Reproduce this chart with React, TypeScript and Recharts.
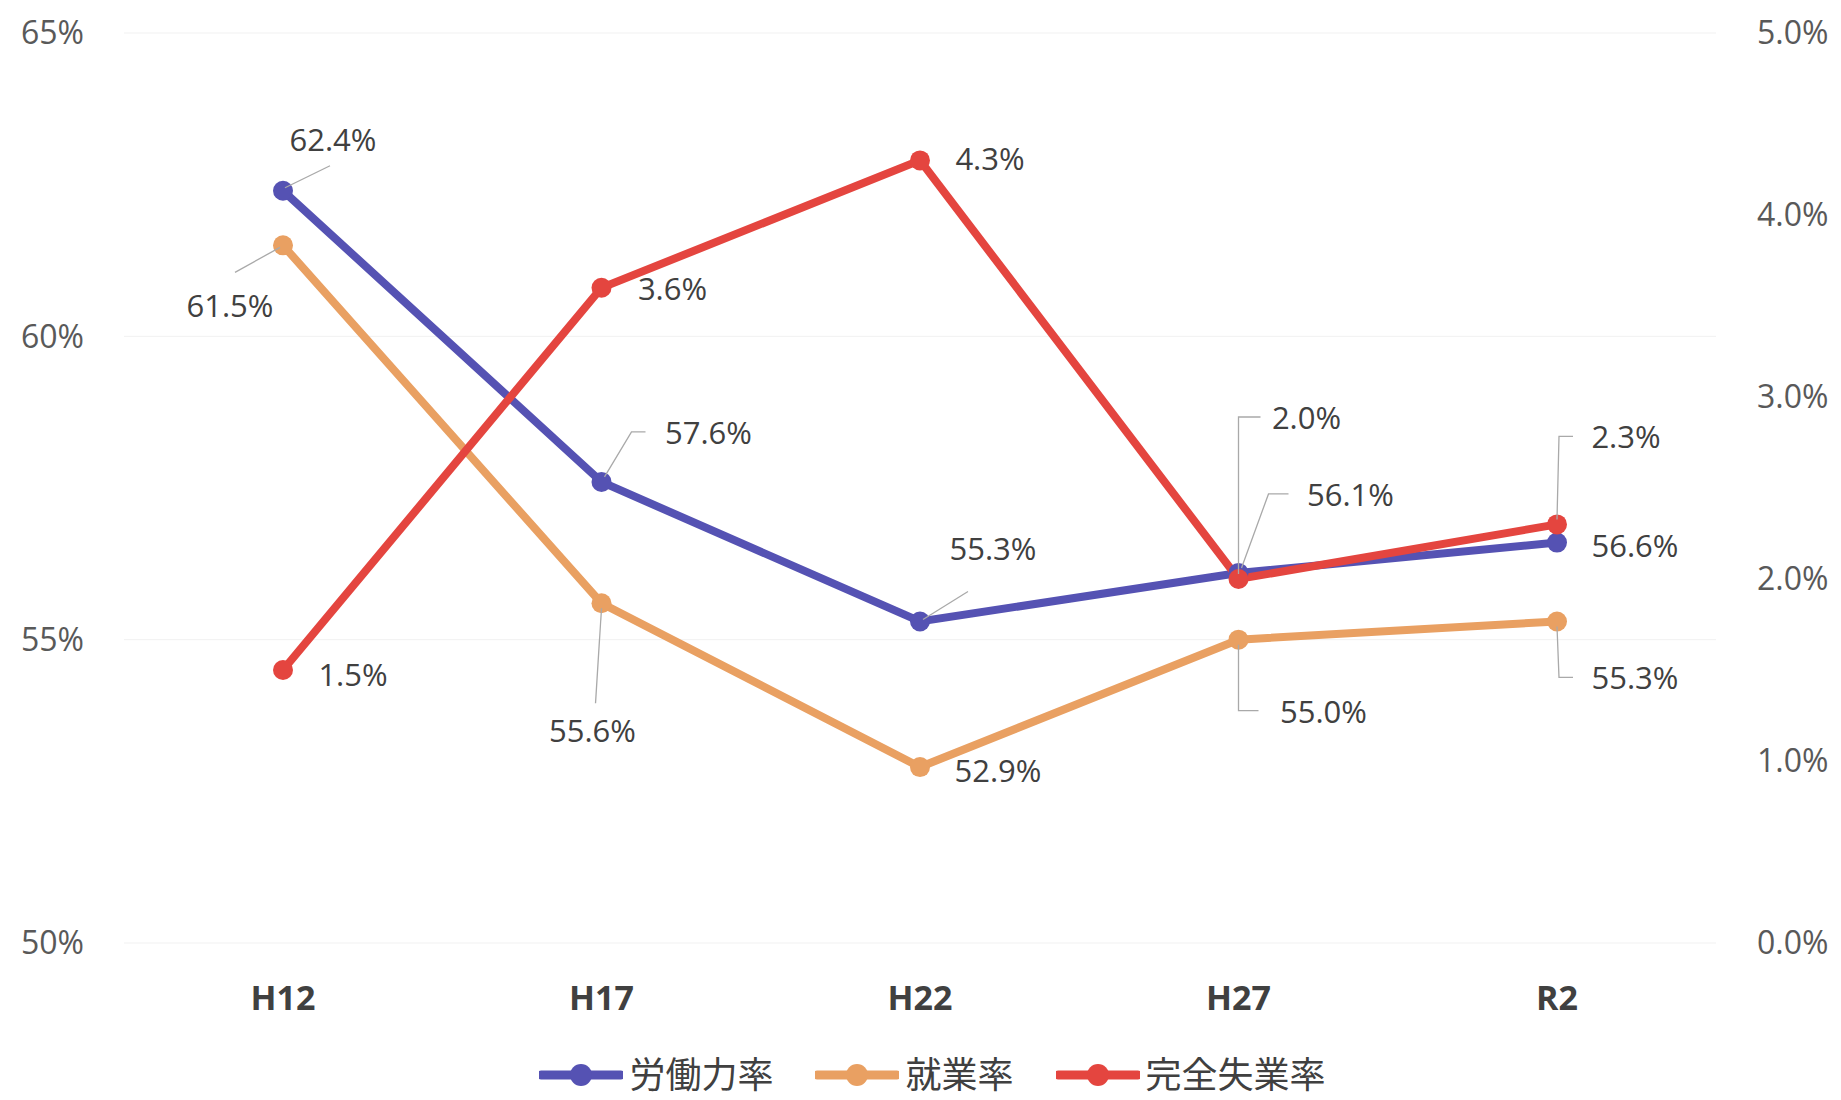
import React from "react";
import { LineChart, Line, XAxis, YAxis, CartesianGrid, LabelList } from "recharts";

const categories = ["H12", "H17", "H22", "H27", "R2"];
const laborForceRate = [62.4, 57.6, 55.3, 56.1, 56.6];
const employmentRate = [61.5, 55.6, 52.9, 55.0, 55.3];
const unemploymentRate = [1.5, 3.6, 4.3, 2.0, 2.3];
const leftTicks = [50, 55, 60, 65];
const rightTicks = [0, 1, 2, 3, 4, 5];

const seriesNames = ["労働力率", "就業率", "完全失業率"];
const colors = ["#5552b3", "#e9a062", "#e4453f"];

const data = categories.map((name, i) => ({
  name,
  labor: laborForceRate[i],
  emp: employmentRate[i],
  unemp: unemploymentRate[i],
}));

// label placement relative to each point: text centre offset + leader polyline
type Lay = { dx: number; dy: number; leader?: number[][] };

const laborLabels: Lay[] = [
  { dx: 50, dy: -52, leader: [[2, -3], [47, -25]] },
  { dx: 107, dy: -50, leader: [[3, -5], [30, -50], [44, -50]] },
  { dx: 73, dy: -73, leader: [[3, -2], [48, -30]] },
  { dx: 112, dy: -79, leader: [[3, -5], [30, -79], [50, -79]] },
  { dx: 78, dy: 2 },
];
const empLabels: Lay[] = [
  { dx: -53, dy: 60, leader: [[-3, 2], [-48, 27]] },
  { dx: -9, dy: 127, leader: [[0, 5], [-6, 100]] },
  { dx: 78, dy: 3 },
  { dx: 85, dy: 71, leader: [[0, 5], [0, 71], [20, 71]] },
  { dx: 78, dy: 56, leader: [[0, 5], [2, 56], [16, 56]] },
];
const unempLabels: Lay[] = [
  { dx: 70, dy: 4 },
  { dx: 71, dy: 0 },
  { dx: 70, dy: -2 },
  { dx: 68, dy: -162, leader: [[0, -5], [0, -162], [22, -162]] },
  { dx: 69, dy: -88, leader: [[0, -5], [2, -88], [16, -88]] },
];

const FONT = '"Open Sans", "Noto Sans", "Noto Sans CJK JP", sans-serif';

const makeLabel = (layout: Lay[]) => (props: any) => {
  const x = Number(props.x);
  const y = Number(props.y);
  const lay = layout[props.index];
  if (!lay) return null;
  return (
    <g>
      {lay.leader && (
        <polyline
          points={lay.leader.map(([a, b]) => `${x + a},${y + b}`).join(" ")}
          fill="none"
          stroke="#a9a9a9"
          strokeWidth={1.3}
        />
      )}
      <text
        x={x + lay.dx}
        y={y + lay.dy}
        textAnchor="middle"
        dominantBaseline="central"
        fontSize={31}
        fontFamily={FONT}
        fill="#404040"
      >
        {Number(props.value).toFixed(1)}%
      </text>
    </g>
  );
};

const tickStyle = { fontSize: 32, fill: "#595959", fontFamily: FONT };

function LegendIcon({ color }: { color: string }) {
  return (
    <svg width={84} height={30} style={{ display: "block" }}>
      <line x1={2} y1={15} x2={82} y2={15} stroke={color} strokeWidth={9} strokeLinecap="round" />
      <circle cx={42} cy={15} r={11} fill={color} />
    </svg>
  );
}

export default function App() {
  return (
    <div style={{ position: "relative", width: 1841, height: 1100, background: "#fff", overflow: "hidden" }}>
      <style>{"body{margin:0}"}</style>
      <LineChart width={1841} height={1100} data={data} margin={{ top: 33, right: 0, left: 0, bottom: 97 }}>
        <CartesianGrid yAxisId="left" vertical={false} stroke="#f1f1f1" />
        <XAxis
          dataKey="name"
          interval={0}
          padding={{ left: 159, right: 159 }}
          axisLine={false}
          tickLine={false}
          height={60}
          tickMargin={37}
          tick={{ fontSize: 34, fontWeight: 700, fill: "#404040", fontFamily: FONT }}
        />
        <YAxis
          yAxisId="left"
          domain={[50, 65]}
          ticks={leftTicks}
          width={124}
          axisLine={false}
          tickLine={false}
          tickMargin={34}
          tick={tickStyle}
          tickFormatter={(v) => `${v}%`}
        />
        <YAxis
          yAxisId="right"
          orientation="right"
          domain={[0, 5]}
          ticks={rightTicks}
          width={125}
          axisLine={false}
          tickLine={false}
          tickMargin={35}
          tick={{ ...tickStyle, textAnchor: "start" }}
          tickFormatter={(v) => `${Number(v).toFixed(1)}%`}
        />
        <Line
          yAxisId="left"
          dataKey="labor"
          stroke={colors[0]}
          strokeWidth={8}
          dot={{ r: 10, fill: colors[0], strokeWidth: 0 }}
          isAnimationActive={false}
        >
          <LabelList dataKey="labor" content={makeLabel(laborLabels)} />
        </Line>
        <Line
          yAxisId="left"
          dataKey="emp"
          stroke={colors[1]}
          strokeWidth={8}
          dot={{ r: 10, fill: colors[1], strokeWidth: 0 }}
          isAnimationActive={false}
        >
          <LabelList dataKey="emp" content={makeLabel(empLabels)} />
        </Line>
        <Line
          yAxisId="right"
          dataKey="unemp"
          stroke={colors[2]}
          strokeWidth={8}
          dot={{ r: 10, fill: colors[2], strokeWidth: 0 }}
          isAnimationActive={false}
        >
          <LabelList dataKey="unemp" content={makeLabel(unempLabels)} />
        </Line>
      </LineChart>
      <div
        style={{
          position: "absolute",
          top: 1052,
          left: 12,
          width: 1841,
          height: 46,
          display: "flex",
          justifyContent: "center",
          alignItems: "center",
          fontFamily: FONT,
          fontSize: 36,
          color: "#404040",
        }}
      >
        {seriesNames.map((n, i) => (
          <div key={n} style={{ display: "flex", alignItems: "center", marginRight: i < 2 ? 42 : 0 }}>
            <LegendIcon color={colors[i]} />
            <span style={{ marginLeft: 6, lineHeight: "46px" }}>{n}</span>
          </div>
        ))}
      </div>
    </div>
  );
}
